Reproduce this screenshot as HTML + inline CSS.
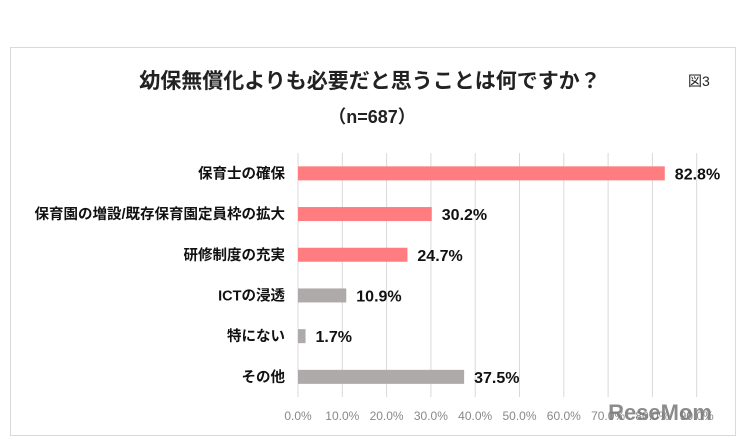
<!DOCTYPE html>
<html><head><meta charset="utf-8"><style>
html,body{margin:0;padding:0;background:#fff;}
svg{display:block;font-family:"Liberation Sans","Noto Sans CJK JP",sans-serif;}
</style></head><body>
<svg id="c" width="746" height="440" xmlns="http://www.w3.org/2000/svg">
<rect x="10.5" y="47.5" width="725" height="388" fill="#fff" stroke="#d9d9d9"/>
<text x="370" y="88" text-anchor="middle" font-size="21" font-weight="bold" fill="#222">幼保無償化よりも必要だと思うことは何ですか？</text>
<text x="372" y="123" text-anchor="middle" font-size="18" font-weight="bold" fill="#222">（n=687）</text>
<text x="688" y="86" font-size="14" fill="#222">図3</text>
<g id="grid"></g><g id="bars"></g>
<text x="712" y="420" text-anchor="end" font-size="22" font-weight="bold" fill="#777" opacity="0.85">ReseMom</text>
</svg>
<script>
const categories=["保育士の確保","保育園の増設/既存保育園定員枠の拡大","研修制度の充実","ICTの浸透","特にない","その他"];
const values=[82.8,30.2,24.7,10.9,1.7,37.5];
const colors=["#ff7c80","#ff7c80","#ff7c80","#aeaaaa","#aeaaaa","#aeaaaa"];
const ticks=[0,10,20,30,40,50,60,70,80,90];
const NS="http://www.w3.org/2000/svg";
const x0=298,step=44.3,yTop=153,yBottom=397,band=40.7;
const xs=v=>x0+v/10*step;
const ys=i=>yTop+band*(i+0.5);
function mk(t,a,p,txt){const e=document.createElementNS(NS,t);for(const k in a)e.setAttribute(k,a[k]);if(txt!=null)e.textContent=txt;p.appendChild(e);return e;}
const g=document.getElementById('grid'),b=document.getElementById('bars');
ticks.forEach(t=>{
 const l=mk('line',{x1:xs(t),x2:xs(t),y1:yTop,y2:yBottom,stroke:'#d9d9d9','stroke-width':1},g);
 
 
 const tx=mk('text',{x:xs(t),y:420,'text-anchor':'middle','font-size':12,fill:'#888'},g,t.toFixed(1)+'%');
 
 
});
categories.forEach((c,i)=>{
 const y=ys(i);
 const r=mk('rect',{x:x0,y:y-7,width:xs(values[i])-x0,height:14,fill:colors[i]},b);
 
 
 const lb=mk('text',{x:285,y:y+5,'text-anchor':'end','font-size':14.5,'font-weight':'bold',fill:'#111'},b,c);
 
 
 const v=mk('text',{x:xs(values[i])+10,y:y+6,'font-size':16,'font-weight':'bold',fill:'#111'},b,values[i].toFixed(1)+'%');
 
 
});
</script>
</body></html>
